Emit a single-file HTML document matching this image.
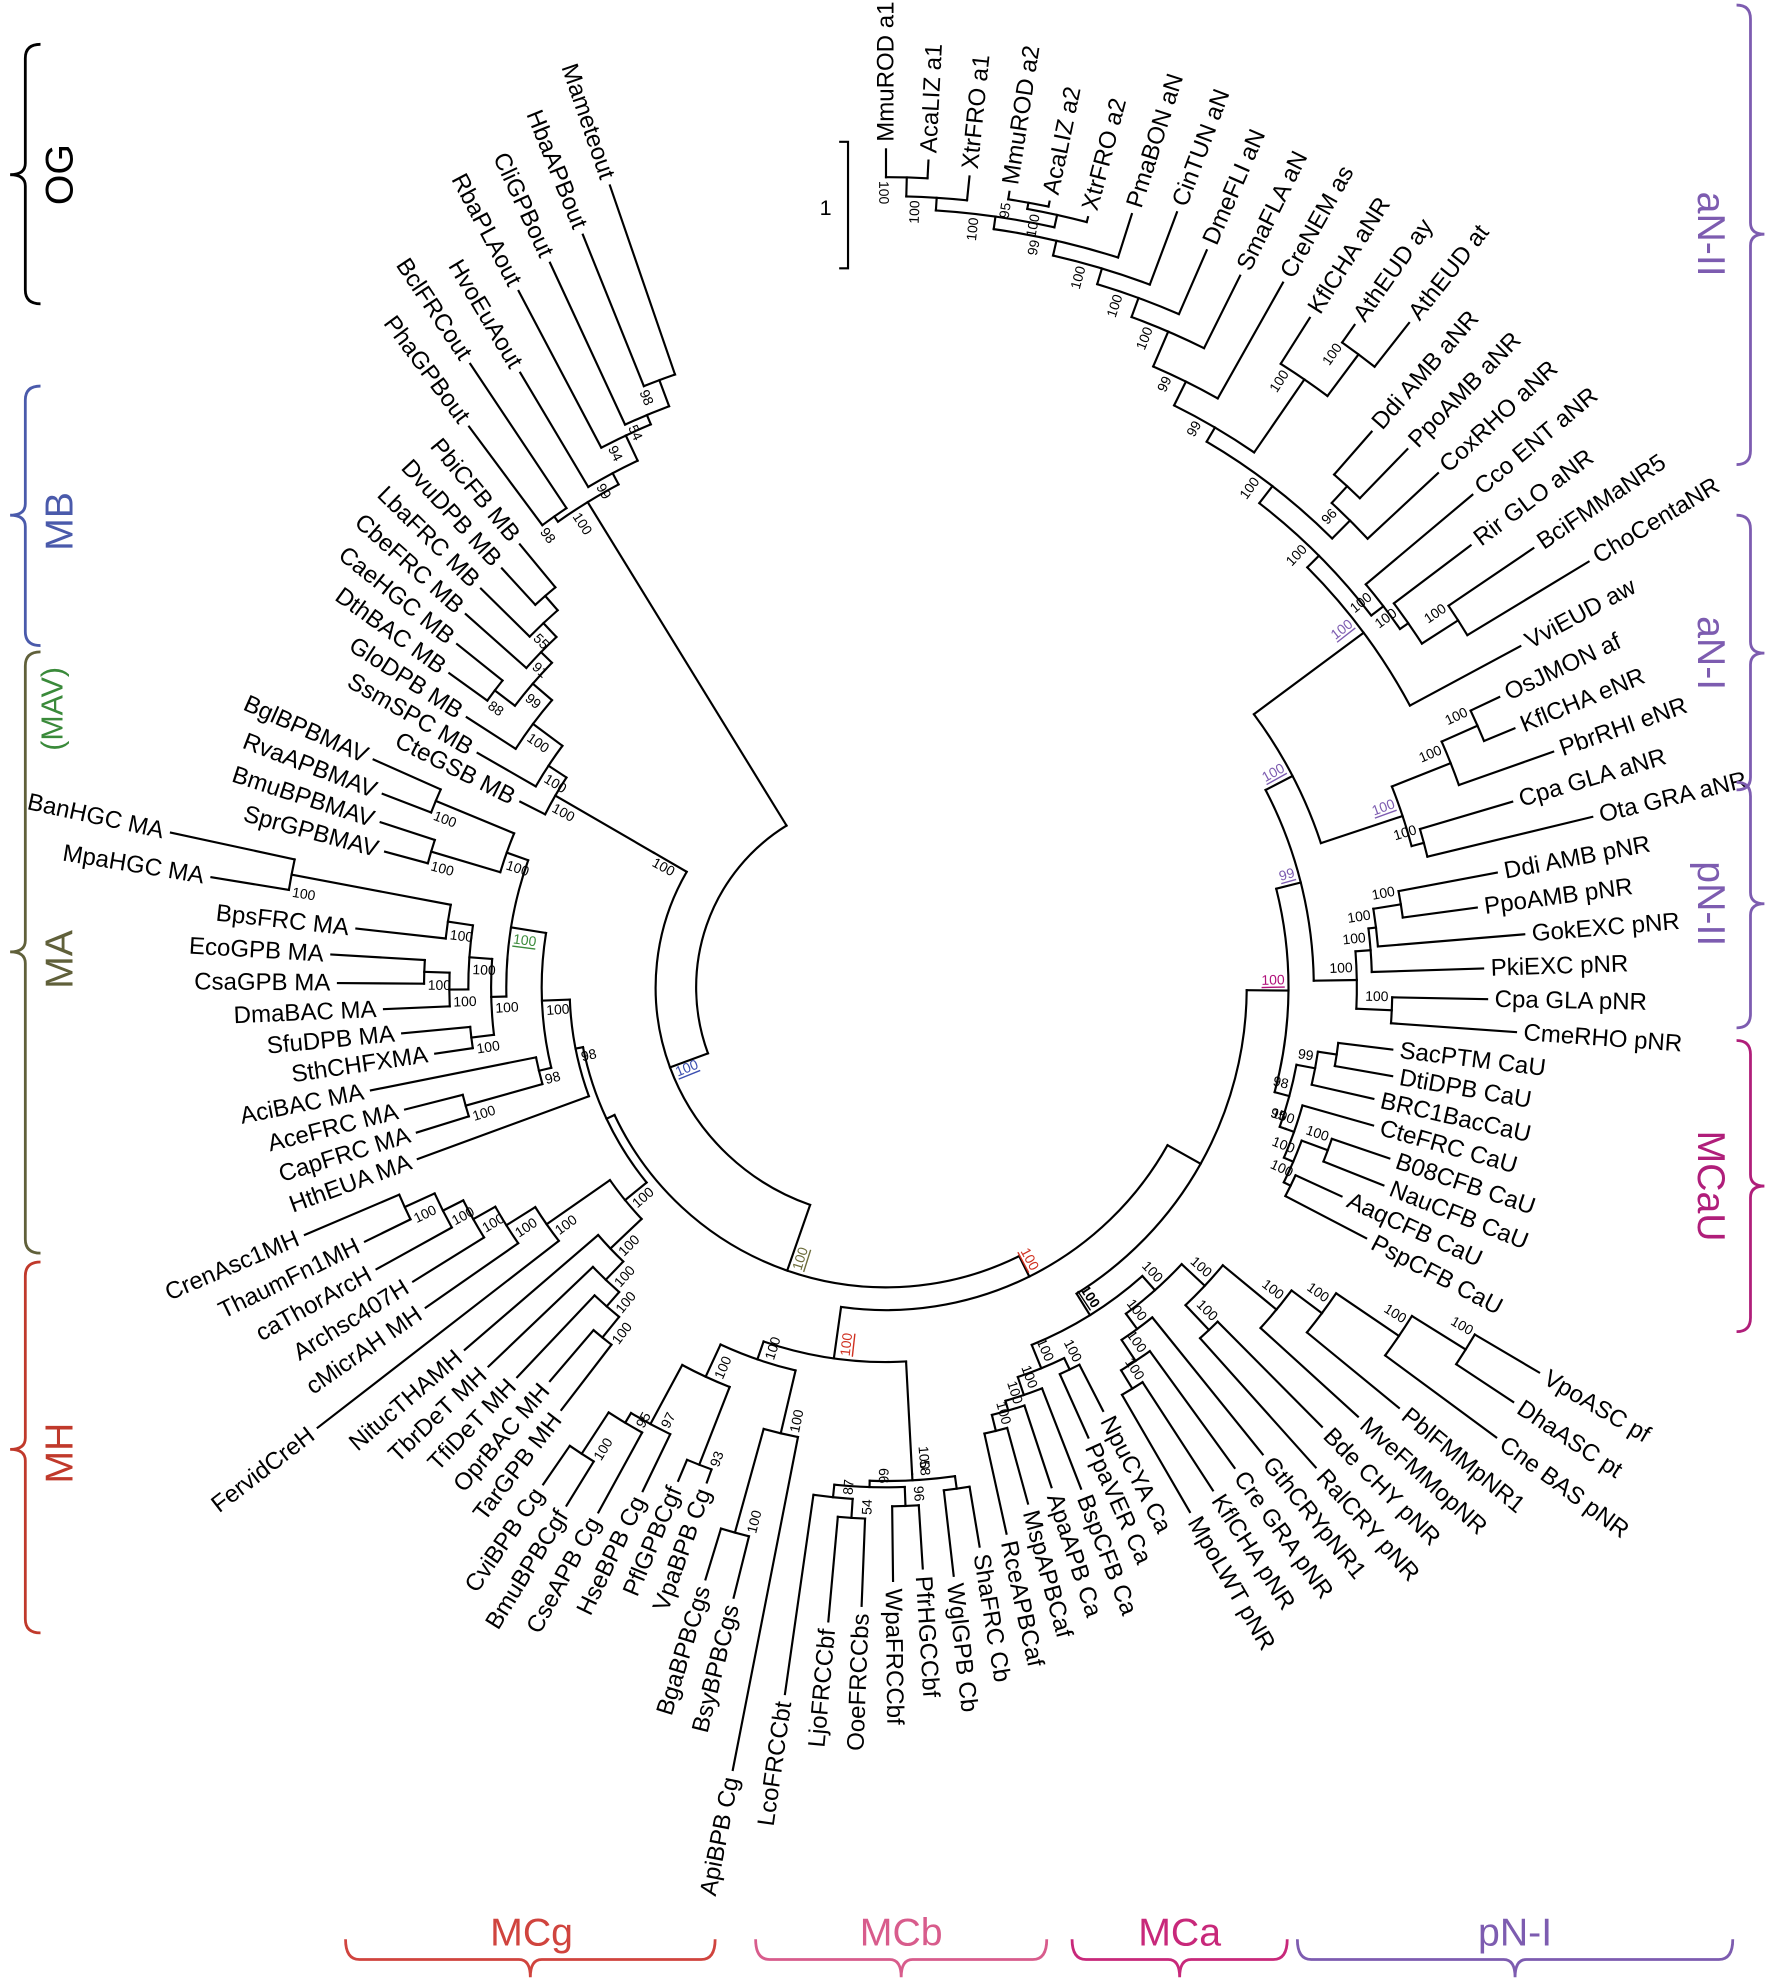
<!DOCTYPE html>
<html><head><meta charset="utf-8"><title>Phylogenetic tree</title>
<style>
html,body{margin:0;padding:0;background:#fff;}
svg{display:block;font-family:"Liberation Sans",Arial,sans-serif;}
</style></head>
<body>
<svg id="tree" width="1772" height="1981" viewBox="0 0 1400 1565" preserveAspectRatio="none" xmlns="http://www.w3.org/2000/svg">
<g id="branches" stroke="#000" stroke-width="1.7" fill="none" stroke-linecap="square"></g>
<g id="labels" font-size="19" fill="#000"></g>
<g id="boots" font-size="11" fill="#000"></g>
<g>
<path d="M663,112 L670,112 L670,212 L663,212" stroke="#000" stroke-width="1.7" fill="none"/>
<text x="657" y="170" font-size="17" text-anchor="end">1</text>
</g>
<g fill="none" stroke-width="2.2">
<path stroke="#7d5cb0" d="M1372,4 Q1383,4 1383,15 L1383,176 Q1383,185 1394,185 Q1383,185 1383,194 L1383,356 Q1383,367 1372,367"/>
<path stroke="#7d5cb0" d="M1372,407 Q1383,407 1383,418 L1383,507 Q1383,516 1394,516 Q1383,516 1383,525 L1383,614 Q1383,624 1372,624"/>
<path stroke="#7d5cb0" d="M1372,618 Q1383,618 1383,629 L1383,705 Q1383,714 1394,714 Q1383,714 1383,723 L1383,801 Q1383,812 1372,812"/>
<path stroke="#b01e7a" d="M1372,822 Q1383,822 1383,833 L1383,928 Q1383,937 1394,937 Q1383,937 1383,946 L1383,1041 Q1383,1052 1372,1052"/>
<path stroke="#000" d="M32,35 Q20,35 20,46 L20,129 Q20,138 8,138 Q20,138 20,147 L20,229 Q20,240 32,240"/>
<path stroke="#4a5aab" d="M32,305 Q20,305 20,316 L20,398 Q20,407 8,407 Q20,407 20,416 L20,499 Q20,510 32,510"/>
<path stroke="#60603a" d="M32,515 Q20,515 20,526 L20,743 Q20,752 8,752 Q20,752 20,761 L20,979 Q20,990 32,990"/>
<path stroke="#c0392b" d="M32,997 Q20,997 20,1008 L20,1136 Q20,1145 8,1145 Q20,1145 20,1154 L20,1279 Q20,1290 32,1290"/>
<path stroke="#d0443e" d="M273,1532 Q273,1548 284,1548 L410,1548 Q419,1548 419,1562 Q419,1548 428,1548 L554,1548 Q565,1548 565,1532"/>
<path stroke="#d85c8c" d="M597,1532 Q597,1548 608,1548 L703,1548 Q712,1548 712,1562 Q712,1548 721,1548 L816,1548 Q827,1548 827,1532"/>
<path stroke="#c8287a" d="M847,1532 Q847,1548 858,1548 L923,1548 Q932,1548 932,1562 Q932,1548 941,1548 L1006,1548 Q1017,1548 1017,1532"/>
<path stroke="#7d5cb0" d="M1025,1532 Q1025,1548 1036,1548 L1188,1548 Q1197,1548 1197,1562 Q1197,1548 1206,1548 L1358,1548 Q1369,1548 1369,1532"/>
</g>
<g font-size="31" text-anchor="middle">
<text fill="#7d5cb0" transform="translate(1352,185) rotate(90)" dominant-baseline="central">aN-II</text>
<text fill="#7d5cb0" transform="translate(1352,516) rotate(90)" dominant-baseline="central">aN-I</text>
<text fill="#7d5cb0" transform="translate(1352,714) rotate(90)" dominant-baseline="central">pN-II</text>
<text fill="#b01e7a" transform="translate(1352,937) rotate(90)" dominant-baseline="central">MCaU</text>
<text fill="#000" transform="translate(47,138) rotate(-90)" dominant-baseline="central">OG</text>
<text fill="#4a5aab" transform="translate(47,412) rotate(-90)" dominant-baseline="central">MB</text>
<text fill="#3a8a3a" font-size="24" transform="translate(42,560) rotate(-90)" dominant-baseline="central">(MAV)</text>
<text fill="#60603a" transform="translate(47,758) rotate(-90)" dominant-baseline="central">MA</text>
<text fill="#c0392b" transform="translate(47,1148) rotate(-90)" dominant-baseline="central">MH</text>
<text fill="#d0443e" x="420" y="1537">MCg</text>
<text fill="#d85c8c" x="712" y="1537">MCb</text>
<text fill="#c8287a" x="932" y="1537">MCa</text>
<text fill="#7d5cb0" x="1197" y="1537">pN-I</text>
</g>
</svg>
<script>
// ---- data ----
const leafNames = ["MmuROD a1","AcaLIZ a1","XtrFRO a1","MmuROD a2","AcaLIZ a2","XtrFRO a2","PmaBON aN","CinTUN aN","DmeFLI aN","SmaFLA aN","CreNEM as","KflCHA aNR","AthEUD ay","AthEUD at","Ddi AMB aNR","PpoAMB aNR","CoxRHO aNR","Cco ENT aNR","Rir GLO aNR","BciFMMaNR5","ChoCentaNR","VviEUD aw","OsJMON af","KflCHA eNR","PbrRHI eNR","Cpa GLA aNR","Ota GRA aNR","Ddi AMB pNR","PpoAMB pNR","GokEXC pNR","PkiEXC pNR","Cpa GLA pNR","CmeRHO pNR","SacPTM CaU","DtiDPB CaU","BRC1BacCaU","CteFRC CaU","B08CFB CaU","NauCFB CaU","AaqCFB CaU","PspCFB CaU","VpoASC pf","DhaASC pt","Cne BAS pNR","PblFMMpNR1","MveFMMopNR","Bde CHY pNR","RalCRY pNR","GthCRYpNR1","Cre GRA pNR","KflCHA pNR","MpoLWT pNR","NpuCYA Ca","PpaVER Ca","BspCFB Ca","ApaAPB Ca","MspAPBCaf","RceAPBCaf","ShaFRC Cb","WglGPB Cb","PfrHGCCbf","WpaFRCCbf","OoeFRCCbs","LjoFRCCbf","LcoFRCCbt","ApiBPB Cg","BsyBPBCgs","BgaBPBCgs","VpaBPB Cg","PflGPBCgf","HseBPB Cg","CseAPB Cg","BmuBPBCgf","CviBPB Cg","TarGPB MH","OprBAC MH","TfiDeT MH","TbrDeT MH","NitucTHAMH","FervidCreH","cMicrAH MH","Archsc407H","caThorArcH","ThaumFn1MH","CrenAsc1MH","HthEUA MA","CapFRC MA","AceFRC MA","AciBAC MA","SthCHFXMA","SfuDPB MA","DmaBAC MA","CsaGPB MA","EcoGPB MA","BpsFRC MA","MpaHGC MA","BanHGC MA","SprGPBMAV","BmuBPBMAV","RvaAPBMAV","BglBPBMAV","CteGSB MB","SsmSPC MB","GloDPB MB","DthBAC MB","CaeHGC MB","CbeFRC MB","LbaFRC MB","DvuDPB MB","PbiCFB MB","PhaGPBout","BclFRCout","HvoEuAout","RbaPLAout","CliGPBout","HbaAPBout","Mameteout"];
const leafRadius = [668,660,650,642,640,635,647,660,641,634,645,632,647,674,589,598,602,611,585,624,655,575,542,543,565,522,580,497,477,512,478,481,505,409,412,401,406,426,429,402,434,605,600,605,530,510,495,515,480,475,480,485,382,396,431,422,429,448,454,474,466,475,495,509,570,636,503,495,422,429,448,479,487,483,427,415,430,440,445,574,449,446,466,464,505,400,394,398,421,366,390,403,439,445,427,546,584,416,426,432,449,330,378,400,431,440,450,455,455,460,558,598,571,628,637,647,676];
const leafColor = [];
const bootColors = {k:"#000",bl:"#3b4fb0",ol:"#6b6b3a",r:"#d03020",pk:"#e04a8a",pu:"#7d5cb0",m:"#b0107a",g:"#3a8a3a",b:"#000"};

function N(r,b,c,...k){return {r:r,b:b,c:c,k:k};}
function L(name){return leafNames.indexOf(name);}

const OG = N(450,"100","k", N(455,"98","k",L("PhaGPBout"),L("BclFRCout")), N(460,"99","k",L("HvoEuAout"), N(482,"94","k",L("RbaPLAout"), N(490,"54","k",L("CliGPBout"), N(512,"98","k",L("HbaAPBout"),L("Mameteout"))))));
const MB = N(212,"100","k", N(302,"100","k",L("CteGSB MB"), N(319,"100","k",L("SsmSPC MB"), N(348,"100","k",L("GloDPB MB"), N(368,"99","k", N(388,"88","k",L("DthBAC MB"),L("CaeHGC MB")), N(380,"91","k",L("CbeFRC MB"), N(395,"55","k",L("LbaFRC MB"), N(410,"","k",L("DvuDPB MB"),L("PbiCFB MB")))))))));
const MAcore = N(312,"100","k", N(330,"100","k",L("SthCHFXMA"),L("SfuDPB MA")), N(330,"100","k", N(345,"100","k",L("DmaBAC MA"), N(365,"100","k",L("CsaGPB MA"),L("EcoGPB MA"))), N(350,"100","k",L("BpsFRC MA"), N(478,"100","k",L("MpaHGC MA"),L("BanHGC MA")))));
const MAV = N(318,"100","k", N(375,"100","k",L("SprGPBMAV"),L("BmuBPBMAV")), N(385,"100","k",L("RvaAPBMAV"),L("BglBPBMAV")));
const MA = N(250,"98","k", L("HthEUA MA"), N(272,"100","k", N(282,"98","k", N(345,"100","k",L("CapFRC MA"),L("AceFRC MA")), L("AciBAC MA")), N(300,"100","g", MAcore, MAV)));
const MH = N(266,"100","k", N(300,"100","k",L("NitucTHAMH"), N(320,"100","k",L("TbrDeT MH"), N(335,"100","k",L("TfiDeT MH"), N(356,"100","k",L("OprBAC MH"),L("TarGPB MH"))))), N(327,"100","k",L("FervidCreH"), N(354,"100","k",L("cMicrAH MH"), N(374,"100","k",L("Archsc407H"), N(392,"100","k",L("caThorArcH"), N(418,"100","k",L("ThaumFn1MH"),L("CrenAsc1MH")))))));
const MCg = N(311,"100","k", N(339,"100","k", N(392,"97","k", N(401,"95","k", N(440,"100","k",L("CviBPB Cg"),L("BmuBPBCgf")), L("CseAPB Cg")), L("HseBPB Cg")), N(405,"93","k",L("PflGPBCgf"),L("VpaBPB Cg"))), N(362,"100","k", N(447,"100","k",L("BgaBPBCgs"),L("BsyBPBCgs")), L("ApiBPB Cg")));
const MCb = N(385,"100","k", N(390,"58","k", N(395,"99","k", N(405,"87","k",L("LcoFRCCbt"), N(420,"54","k",L("LjoFRCCbf"),L("OoeFRCCbs"))), N(410,"96","k",L("WpaFRCCbf"),L("PfrHGCCbf"))), N(400,"","k",L("WglGPB Cb"),L("ShaFRC Cb"))));
const MCa = N(325,"100","k", N(335,"100","k",L("PpaVER Ca"),L("NpuCYA Ca")), N(340,"100","k",L("BspCFB Ca"), N(348,"100","k",L("ApaAPB Ca"), N(361,"100","k",L("MspAPBCaf"),L("RceAPBCaf")))));
const pNI = N(320,"100","k", N(335,"100","k", N(355,"100","k", N(372,"100","k",L("MpoLWT pNR"),L("KflCHA pNR")), L("Cre GRA pNR")), L("GthCRYpNR1")), N(345,"100","k", N(372,"100","k",L("RalCRY pNR"),L("Bde CHY pNR")), N(400,"100","k",L("MveFMMopNR"), N(430,"100","k",L("PblFMMpNR1"), N(490,"100","k",L("Cne BAS pNR"), N(540,"100","k",L("DhaASC pt"),L("VpoASC pf")))))));
const CaU = N(330,"98","k", N(345,"99","k", N(360,"","k",L("SacPTM CaU"),L("DtiDPB CaU")), L("BRC1BacCaU")), N(335,"95","k", N(342,"100","k",L("CteFRC CaU"), N(350,"100","k", N(372,"100","k",L("B08CFB CaU"),L("NauCFB CaU")), N(356,"100","k",L("AaqCFB CaU"),L("PspCFB CaU"))))));
const pNII = N(372,"100","k", N(384,"100","k", N(390,"100","k", N(412,"100","k",L("Ddi AMB pNR"),L("PpoAMB pNR")), L("GokEXC pNR")), L("PkiEXC pNR")), N(400,"100","k",L("Cpa GLA pNR"),L("CmeRHO pNR")));
const aNI = N(430,"100","pu", N(480,"100","k",L("PbrRHI eNR"), N(511,"100","k",L("OsJMON af"),L("KflCHA eNR"))), N(440,"100","k",L("Cpa GLA aNR"),L("Ota GRA aNR")));
const aNII = N(470,"100","pu", L("VviEUD aw"),
  N(483,"100","k", N(495,"100","k",L("Cco ENT aNR"), N(503,"100","k",L("Rir GLO aNR"), N(537,"100","k",L("BciFMMaNR5"),L("ChoCentaNR")))),
  N(500,"100","k", N(520,"96","k", N(538,"","k",L("Ddi AMB aNR"),L("PpoAMB aNR")), L("CoxRHO aNR")),
  N(513,"99","k", N(583,"100","k",L("KflCHA aNR"), N(624,"100","k",L("AthEUD ay"),L("AthEUD at"))),
  N(534,"99","k",L("CreNEM as"), N(564,"100","k",L("SmaFLA aN"), N(580,"100","k",L("DmeFLI aN"), N(593,"100","k",L("CinTUN aN"), N(605,"99","k",L("PmaBON aN"),
  N(615,"100","k", N(625,"100","k",L("XtrFRO a2"), N(630,"95","k",L("AcaLIZ a2"),L("MmuROD a2"))), N(625,"100","k",L("XtrFRO a1"), N(640,"100","k",L("AcaLIZ a1"),L("MmuROD a1")))))))))))));
const aNall = N(362,"100","pu", aNI, aNII);
const E = N(318,"100","m", CaU, N(338,"99","pu", pNII, aNall));
const C = N(255,"100","r", N(296,"100","r", MCg, MCb), N(285,"","k", N(305,"100","b", MCa, pNI), E));
const tree = N(150,"","k", N(182,"100","bl", MB, N(237,"100","ol", N(244,"","k", MA, MH), C)), OG);

// ---- layout & drawing ----
const cx = 700, cy = 780;
const startAngle = 0, endAngle = 341;
const step = (endAngle - startAngle) / (leafNames.length - 1);
const NS = "http://www.w3.org/2000/svg";
const gB = document.getElementById("branches");
const gL = document.getElementById("labels");
const gT = document.getElementById("boots");
function P(r,a){const t=a*Math.PI/180;return [cx+r*Math.sin(t), cy-r*Math.cos(t)];}
function f(v){return v.toFixed(2);}
function addLine(r1,r2,a){
  const p1=P(r1,a), p2=P(r2,a);
  const el=document.createElementNS(NS,"path");
  el.setAttribute("d","M"+f(p1[0])+","+f(p1[1])+"L"+f(p2[0])+","+f(p2[1]));
  
  
  gB.appendChild(el);
}
function addArc(r,a1,a2){
  if(a2-a1<0.01) return;
  const p1=P(r,a1), p2=P(r,a2);
  const large=(a2-a1)>180?1:0;
  const el=document.createElementNS(NS,"path");
  el.setAttribute("d","M"+f(p1[0])+","+f(p1[1])+"A"+r+","+r+" 0 "+large+" 1 "+f(p2[0])+","+f(p2[1]));
  
  
  gB.appendChild(el);
}
function rotFor(a){const m=((a%360)+360)%360; return m<=180?{rot:m-90,anchor:"start"}:{rot:m+90,anchor:"end"};}
function addLeafLabel(i,a){
  const p=P(leafRadius[i],a);
  const o=rotFor(a);
  const t=document.createElementNS(NS,"text");
  t.setAttribute("transform","translate("+f(p[0])+","+f(p[1])+") rotate("+f(o.rot)+")");
  t.setAttribute("text-anchor",o.anchor);
  t.setAttribute("dominant-baseline","central");
  if(leafColor[i]) t.setAttribute("fill",leafColor[i]);
  t.textContent=leafNames[i];
  
  
  gL.appendChild(t);
}
function addBoot(node,a){
  if(!node.b) return;
  const aa=a-1.6;
  const p=P(node.r-3,aa);
  const o=rotFor(aa);
  const t=document.createElementNS(NS,"text");
  t.setAttribute("transform","translate("+f(p[0])+","+f(p[1])+") rotate("+f(o.rot)+")");
  t.setAttribute("text-anchor",o.anchor==="start"?"end":"start");
  t.setAttribute("dominant-baseline","central");
  const col=bootColors[node.c]||"#000";
  t.setAttribute("fill",col);
  if(node.c!=="k"){t.setAttribute("text-decoration","underline");}
  if(node.c==="b"){t.setAttribute("font-weight","bold");}
  t.textContent=node.b;
  
  
  gT.appendChild(t);
}
function layout(n){
  if(typeof n==="number"){
    const a=startAngle+n*step;
    addLeafLabel(n,a);
    return {a:a, r:leafRadius[n]-6};
  }
  const kids=n.k.map(layout);
  const angs=kids.map(k=>k.a);
  const mn=Math.min(...angs), mx=Math.max(...angs);
  addArc(n.r,mn,mx);
  kids.forEach(k=>addLine(n.r,k.r,k.a));
  const a=(mn+mx)/2;
  addBoot(n,a);
  return {a:a, r:n.r};
}
layout(tree);
</script>
</body></html>
